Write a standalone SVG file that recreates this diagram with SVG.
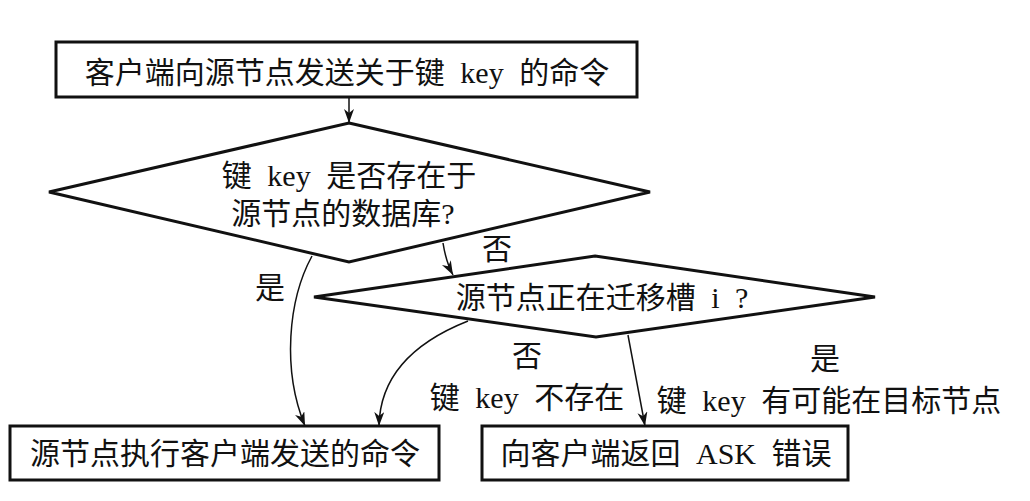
<svg xmlns="http://www.w3.org/2000/svg" width="1030" height="501" viewBox="0 0 1030 501">
<defs>
<marker id="arr" markerUnits="userSpaceOnUse" markerWidth="16" markerHeight="12" refX="14" refY="5" orient="auto">
<path d="M0,0 L14,5 L0,10 L4,5 z" fill="#111"/>
</marker>
<style>
.node{fill:#fff;stroke:#111;stroke-width:3}
.edge{fill:none;stroke:#111;stroke-width:1.5;marker-end:url(#arr)}
text{font-family:"Liberation Serif","Noto Sans CJK SC",serif;font-size:30px;fill:#111;text-anchor:middle;word-spacing:8px}
</style>
</defs>
<rect width="1030" height="501" fill="#fff"/>
<g id="connectors">
<path class="edge" d="M349,97 L349,123"/>
<path class="edge" d="M443,243 Q446,262 453,275"/>
<path class="edge" d="M312,256 C288,300 282,370 305,426"/>
<path class="edge" d="M468,321 C420,340 380,372 379,426"/>
<path class="edge" d="M628,335 L645,426"/>
</g>
<g id="n-send">
<rect class="node" x="56" y="42" width="581" height="55"/>
<text x="347" y="83">客户端向源节点发送关于键 key 的命令</text>
</g>
<g id="n-exists">
<polygon class="node" points="349,123 650,192 349,262 49,192"/>
<text x="349" y="186">键 key 是否存在于</text>
<text x="343" y="224">源节点的数据库?</text>
</g>
<g id="n-migrating">
<polygon class="node" points="595,256 875,297 596,337 314,297"/>
<text x="602" y="308">源节点正在迁移槽 i ?</text>
</g>
<g id="n-exec">
<rect class="node" x="10" y="426" width="429" height="54"/>
<text x="225" y="464">源节点执行客户端发送的命令</text>
</g>
<g id="n-ask">
<rect class="node" x="482" y="426" width="366" height="54"/>
<text x="666" y="464">向客户端返回 ASK 错误</text>
</g>
<g id="labels">
<text x="497" y="259">否</text>
<text x="270" y="298">是</text>
<text x="527" y="366">否</text>
<text x="527" y="408">键 key 不存在</text>
<text x="825" y="369">是</text>
<text x="829" y="411">键 key 有可能在目标节点</text>
</g>
</svg>
